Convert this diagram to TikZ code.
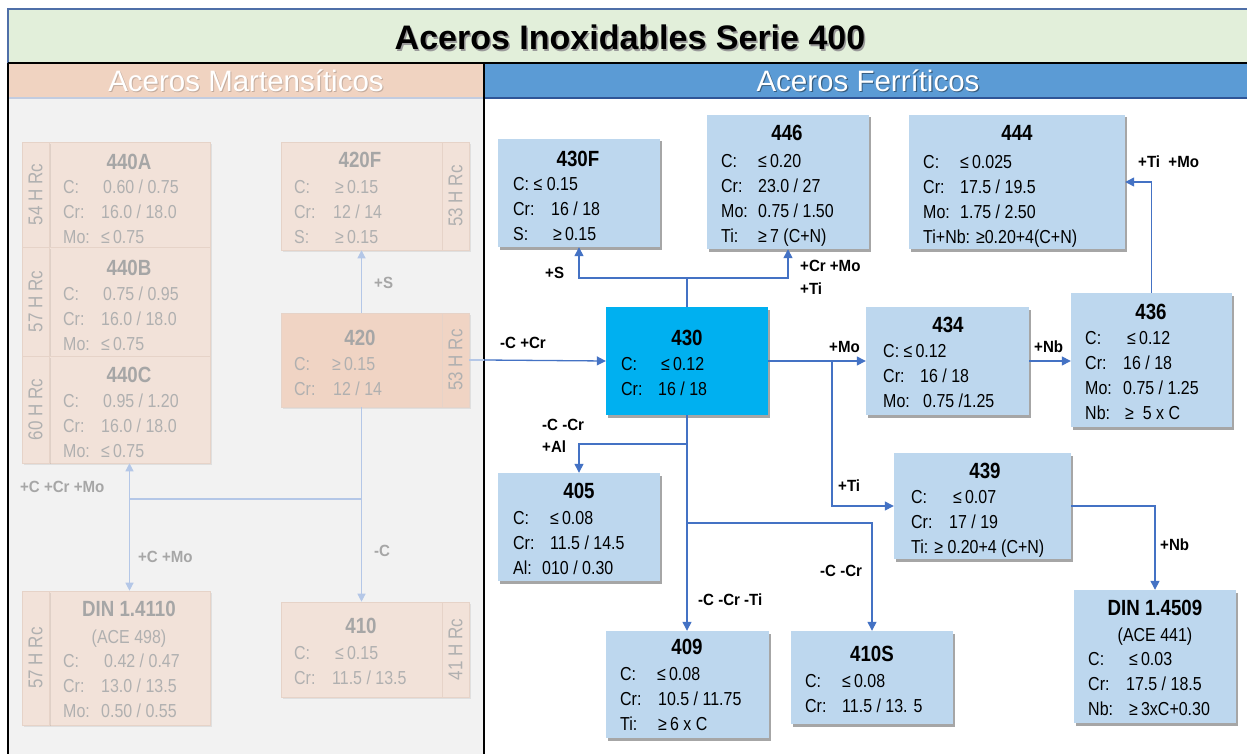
\documentclass[tikz,border=0pt]{standalone}
\usepackage{fontspec}
\setmainfont{Liberation Sans}
\newfontfamily\nsans[FakeStretch=0.85]{Liberation Sans}
\newfontfamily\lsans[FakeStretch=0.93]{Liberation Sans}
\usetikzlibrary{arrows.meta,shadows}
\definecolor{titlegreen}{HTML}{E2EFDA}
\definecolor{frameblue}{HTML}{4F6FA8}
\definecolor{peachhdr}{HTML}{F0D3C1}
\definecolor{hdrblue}{HTML}{5B9BD5}
\definecolor{panelgrey}{HTML}{F2F2F2}
\definecolor{hdrline}{HTML}{C2CCE0}
\definecolor{darkline}{HTML}{2F5597}
\definecolor{boxblue}{HTML}{BDD7EE}
\definecolor{boxcyan}{HTML}{00B0F0}
\definecolor{connblue}{HTML}{4472C4}
\definecolor{fadeconn}{HTML}{B4C7E7}
\definecolor{fadebox}{HTML}{F2E2D9}
\definecolor{fadeboxb}{HTML}{F0D4C4}
\definecolor{fadetext}{HTML}{B0B0B0}
\definecolor{fadetitle}{HTML}{A6A6A6}
\definecolor{fadesep}{HTML}{E6D3C8}
\newcommand{\fbody}{\nsans\fontsize{18.8}{25}\selectfont}
\newcommand{\fttl}{\nsans\fontsize{22}{25}\selectfont\bfseries}
\newcommand{\flab}{\lsans\fontsize{16.2}{19}\selectfont\bfseries}
\newcommand{\lb}[2]{\makebox[#1pt][l]{#2}}
\tikzset{
  sbox/.style={rectangle, inner sep=0pt, draw=none, fill=boxblue,
    drop shadow={shadow xshift=2pt, shadow yshift=-2.5pt, opacity=0.35, fill=black}},
  fbox/.style={rectangle, inner sep=0pt, draw=fadesep, line width=0.6pt, fill=fadebox,
    drop shadow={shadow xshift=1.5pt, shadow yshift=-2pt, opacity=0.08, fill=black}},
  body/.style={font=\fbody, align=left, inner sep=0pt, anchor=north west, yshift=-0.7pt},
  fbody/.style={body, text=fadetext},
  ttl/.style={font=\fttl, inner sep=0pt, anchor=base, yshift=-0.8pt},
  fttl/.style={ttl, text=fadetitle},
  sub/.style={font=\fbody, inner sep=0pt, anchor=base, yshift=-0.7pt},
  rlab/.style={font=\nsans\fontsize{20}{22}\selectfont, text=fadetext, rotate=90, inner sep=0pt},
  lab/.style={font=\flab, inner sep=0pt, anchor=west},
  flab/.style={lab, text=fadetitle},
  conn/.style={draw=connblue, line width=1.3pt},
  arr/.style={-{Triangle[length=9pt,width=9pt]}},
  fconn/.style={draw=fadeconn, line width=1.2pt},
  farr/.style={-{Triangle[length=8pt,width=8pt]}},
}
\begin{document}
\begin{tikzpicture}[x=1pt,y=-1pt]
\useasboundingbox (0,0) rectangle (1247,754);
\fill[white] (0,0) rectangle (1247,754);
% frame and headers
\fill[titlegreen] (8,9) rectangle (1247,63);
\draw[frameblue, line width=1.3pt] (8,63) -- (8,9) -- (1247,9);
\fill[peachhdr] (8,63) rectangle (484,97);
\fill[hdrblue] (484,63) rectangle (1247,97);
\fill[panelgrey] (8,98) rectangle (484,754);
\draw[hdrline, line width=2pt] (8,98) -- (484,98);
\draw[darkline, line width=2.5pt] (484,98) -- (1247,98);
\draw[black, line width=1.5pt] (8,63) -- (1247,63);
\draw[black, line width=1.2pt] (8,63) -- (8,754);
\draw[black, line width=2pt] (484,63) -- (484,754);
\node[font=\fontsize{34}{40}\selectfont\bfseries, text=black!40, anchor=base, inner sep=0pt] (titlesh) at (631.5,51.5) {Aceros Inoxidables Serie 400};
\node[font=\fontsize{34}{40}\selectfont\bfseries, text=black, anchor=base, inner sep=0pt] (title) at (630,50) {Aceros Inoxidables Serie 400};
\node[font=\fontsize{29.5}{34}\selectfont, text=black, opacity=0.18, anchor=base, inner sep=0pt] (hmsh) at (247,93) {Aceros Martensíticos};
\node[font=\fontsize{29.5}{34}\selectfont, text=white, anchor=base, inner sep=0pt] (hm) at (246,92) {Aceros Martensíticos};
\node[font=\fontsize{29.5}{34}\selectfont, text=black, opacity=0.4, anchor=base, inner sep=0pt] (hfsh) at (869.2,92.7) {Aceros Ferríticos};
\node[font=\fontsize{29.5}{34}\selectfont, text=white, anchor=base, inner sep=0pt] (hf) at (868,91.5) {Aceros Ferríticos};

% ---------------- martensitic (faded) ----------------
\node[fbox, minimum width=161pt, minimum height=105pt] (b440A) at (129.5,194.5) {};
\node[fbox, minimum width=27pt, minimum height=105pt] (s440A) at (35.5,194.5) {};
\node[fbox, minimum width=161pt, minimum height=109pt] (b440B) at (129.5,301.5) {};
\node[fbox, minimum width=27pt, minimum height=109pt] (s440B) at (35.5,301.5) {};
\node[fbox, minimum width=161pt, minimum height=107pt] (b440C) at (129.5,409.5) {};
\node[fbox, minimum width=27pt, minimum height=107pt] (s440C) at (35.5,409.5) {};
\node[fbox, minimum width=161pt, minimum height=108pt] (b420F) at (361.5,196) {};
\node[fbox, minimum width=27pt, minimum height=108pt] (s420F) at (455.5,196) {};
\node[fbox, fill=fadeboxb, minimum width=161pt, minimum height=94pt] (b420) at (361.5,360) {};
\node[fbox, fill=fadeboxb, minimum width=27pt, minimum height=94pt] (s420) at (455.5,360) {};
\node[fbox, minimum width=161pt, minimum height=134pt] (b4110) at (129.5,658) {};
\node[fbox, minimum width=27pt, minimum height=134pt] (s4110) at (35.5,658) {};
\node[fbox, minimum width=161pt, minimum height=95pt] (b410) at (361.5,649.5) {};
\node[fbox, minimum width=27pt, minimum height=95pt] (s410) at (455.5,649.5) {};

\node[rlab] (r440A) at (s440A) {54 H Rc};
\node[rlab] (r440B) at (s440B) {57 H Rc};
\node[rlab] (r440C) at (s440C) {60 H Rc};
\node[rlab] (r420F) at (s420F) {53 H Rc};
\node[rlab] (r420) at (s420) {53 H Rc};
\node[rlab] (r4110) at (s4110) {57 H Rc};
\node[rlab] (r410) at (s410) {41 H Rc};

\node[fttl] (t440A) at (129,169) {440A};
\node[fbody] (c440A) at (63,175.5) {\strut\lb{40}{C:}0.60 / 0.75\\\strut\lb{38}{Cr:}16.0 / 18.0\\\strut\lb{38}{Mo:}≤\,0.75};
\node[fttl] (t440B) at (129,275) {440B};
\node[fbody] (c440B) at (63,282.5) {\strut\lb{40}{C:}0.75 / 0.95\\\strut\lb{38}{Cr:}16.0 / 18.0\\\strut\lb{38}{Mo:}≤\,0.75};
\node[fttl] (t440C) at (129,382) {440C};
\node[fbody] (c440C) at (63,389.5) {\strut\lb{40}{C:}0.95 / 1.20\\\strut\lb{38}{Cr:}16.0 / 18.0\\\strut\lb{38}{Mo:}≤\,0.75};
\node[fttl] (t420F) at (360,167) {420F};
\node[fbody] (c420F) at (294,175.5) {\strut\lb{41}{C:}≥\,0.15\\\strut\lb{39}{Cr:}12 / 14\\\strut\lb{41}{S:}≥\,0.15};
\node[fttl] (t420) at (360,345) {420};
\node[fbody] (c420) at (294,352.5) {\strut\lb{38}{C:}≥\,0.15\\\strut\lb{39}{Cr:}12 / 14};
\node[fttl] (t4110) at (129,616) {DIN 1.4110};
\node[sub, text=fadetext] (a4110) at (129,643) {(ACE 498)};
\node[fbody] (c4110) at (63,649.5) {\strut\lb{41}{C:}0.42 / 0.47\\\strut\lb{38}{Cr:}13.0 / 13.5\\\strut\lb{38}{Mo:}0.50 / 0.55};
\node[fttl] (t410) at (361,633) {410};
\node[fbody] (c410) at (294,641.5) {\strut\lb{41}{C:}≤\,0.15\\\strut\lb{38}{Cr:}11.5 / 13.5};

\coordinate (jm) at (361.5,499);
\coordinate (jl) at (129.5,499);
\draw[fconn, farr, fadeconn] (b420.north) -- (b420F.south);
\draw[fconn, farr, fadeconn] (b420.south) -- (b410.north);
\draw[fconn] (jm) -- (jl);
\draw[fconn, farr, fadeconn] (jl) -- (b440C.south);
\draw[fconn, farr, fadeconn] (jl) -- (b4110.north);
\node[flab] (lfs) at (374,283) {+S};
\node[flab] (lfc) at (374,551) {-C};
\node[flab] (lfccrmo) at (20,487) {+C +Cr +Mo};
\node[flab] (lfcmo) at (138,557) {+C +Mo};

% ---------------- ferritic ----------------
\node[sbox, minimum width=162pt, minimum height=108pt] (b430F) at (579,193) {};
\node[sbox, minimum width=162pt, minimum height=134pt] (b446) at (788,182) {};
\node[sbox, minimum width=216pt, minimum height=134pt] (b444) at (1017,182) {};
\node[sbox, fill=boxcyan, minimum width=162pt, minimum height=108pt] (b430) at (687,361) {};
\node[sbox, minimum width=163pt, minimum height=108pt] (b434) at (947.5,361) {};
\node[sbox, minimum width=161pt, minimum height=134pt] (b436) at (1151.5,360) {};
\node[sbox, minimum width=162pt, minimum height=108pt] (b405) at (579,527) {};
\node[sbox, minimum width=177pt, minimum height=106pt] (b439) at (982.5,506) {};
\node[sbox, minimum width=163pt, minimum height=107pt] (b409) at (687,684.5) {};
\node[sbox, minimum width=162pt, minimum height=93pt] (b410S) at (872,677.5) {};
\node[sbox, minimum width=162pt, minimum height=133pt] (b4509) at (1155,656.5) {};

\node[ttl] (t430F) at (578,166) {430F};
\node[body] (c430F) at (513,172.5) {\strut C: ≤ 0.15\\\strut\lb{38}{Cr:}16 / 18\\\strut\lb{40}{S:}≥\,0.15};
\node[ttl] (t446) at (787,140) {446};
\node[body] (c446) at (721,149.5) {\strut\lb{37}{C:}≤\,0.20\\\strut\lb{37}{Cr:}23.0 / 27\\\strut\lb{37}{Mo:}0.75 / 1.50\\\strut\lb{37}{Ti:}≥\,7 (C+N)};
\node[ttl] (t444) at (1017,140) {444};
\node[body] (c444) at (923,150.5) {\strut\lb{37}{C:}≤\,0.025\\\strut\lb{37}{Cr:}17.5 / 19.5\\\strut\lb{37}{Mo:}1.75 / 2.50\\\strut Ti+Nb: ≥0.20+4(C+N)};
\node[ttl] (t430) at (687,345) {430};
\node[body] (c430) at (621,352.5) {\strut\lb{40}{C:}≤\,0.12\\\strut\lb{37}{Cr:}16 / 18};
\node[ttl] (t434) at (948,332) {434};
\node[body] (c434) at (883,339.5) {\strut C: ≤\,0.12\\\strut\lb{37}{Cr:}16 / 18\\\strut\lb{40}{Mo:}0.75 /1.25};
\node[ttl] (t436) at (1151,319) {436};
\node[body] (c436) at (1085,326.5) {\strut\lb{42}{C:}≤\,0.12\\\strut\lb{38}{Cr:}16 / 18\\\strut\lb{38}{Mo:}0.75 / 1.25\\\strut\lb{40}{Nb:}≥\ \ 5 x C};
\node[ttl] (t405) at (579,498) {405};
\node[body] (c405) at (513,506.5) {\strut\lb{37}{C:}≤\,0.08\\\strut\lb{37}{Cr:}11.5 / 14.5\\\strut\lb{29}{Al:}010 / 0.30};
\node[ttl] (t439) at (985,478) {439};
\node[body] (c439) at (911,485.5) {\strut\lb{42}{C:}≤\,0.07\\\strut\lb{38}{Cr:}17 / 19\\\strut Ti: ≥ 0.20+4 (C+N)};
\node[ttl] (t409) at (687,654) {409};
\node[body] (c409) at (620,662.5) {\strut\lb{37}{C:}≤\,0.08\\\strut\lb{38}{Cr:}10.5 / 11.75\\\strut\lb{38}{Ti:}≥\,6 x C};
\node[ttl] (t410S) at (872,661) {410S};
\node[body] (c410S) at (805,669.5) {\strut\lb{37}{C:}≤\,0.08\\\strut\lb{37}{Cr:}11.5 / 13. 5};
\node[ttl] (t4509) at (1155,615) {DIN 1.4509};
\node[sub] (a4509) at (1155,641) {(ACE 441)};
\node[body] (c4509) at (1088,647.5) {\strut\lb{41}{C:}≤\,0.03\\\strut\lb{38}{Cr:}17.5 / 18.5\\\strut\lb{41}{Nb:}≥\,3xC+0.30};

% connectors
\coordinate (sep) at (484,360);
\draw[fconn] (s420.east) -- (sep);
\draw[conn, arr, connblue] (sep) -- (b430.west);
\coordinate (j1) at (687,278);
\draw[conn] (b430.north) -- (j1);
\draw[conn, arr, connblue] (j1) -| (b430F.south);
\draw[conn, arr, connblue] (j1) -| (b446.south);
\draw[conn, arr, connblue] (b430.east) -- (b434.west);
\coordinate (j2) at (832,361);
\draw[conn, arr, connblue] (j2) |- (b439.west);
\draw[conn, arr, connblue] (b434.east) -- (b434.east -| b436.west);
\draw[conn, arr, connblue] (b436.north) |- (b444.east);
\draw[conn, arr, connblue] (b430.south) -- (b409.north);
\coordinate (j3) at (687,444);
\draw[conn, arr, connblue] (j3) -| (b405.north);
\coordinate (j4) at (687,523);
\draw[conn, arr, connblue] (j4) -| (b410S.north);
\draw[conn, arr, connblue] (b439.east) -| (b4509.north);

\node[lab] (ls) at (545,273) {+S};
\node[lab] (lcrmo) at (800,266) {+Cr +Mo};
\node[lab] (lti1) at (800,289) {+Ti};
\node[lab] (lccr) at (500,343) {-C +Cr};
\node[lab] (lmo) at (829,347) {+Mo};
\node[lab] (lnb1) at (1034,347) {+Nb};
\node[lab] (ltimo) at (1138,162) {+Ti\ \ +Mo};
\node[lab] (lccral) at (542,425) {-C -Cr};
\node[lab] (lal) at (542,447) {+Al};
\node[lab] (lti2) at (838,486) {+Ti};
\node[lab] (lccrti) at (698,600) {-C -Cr -Ti};
\node[lab] (lccr2) at (820,571) {-C -Cr};
\node[lab] (lnb2) at (1160,545) {+Nb};
\end{tikzpicture}
\end{document}
